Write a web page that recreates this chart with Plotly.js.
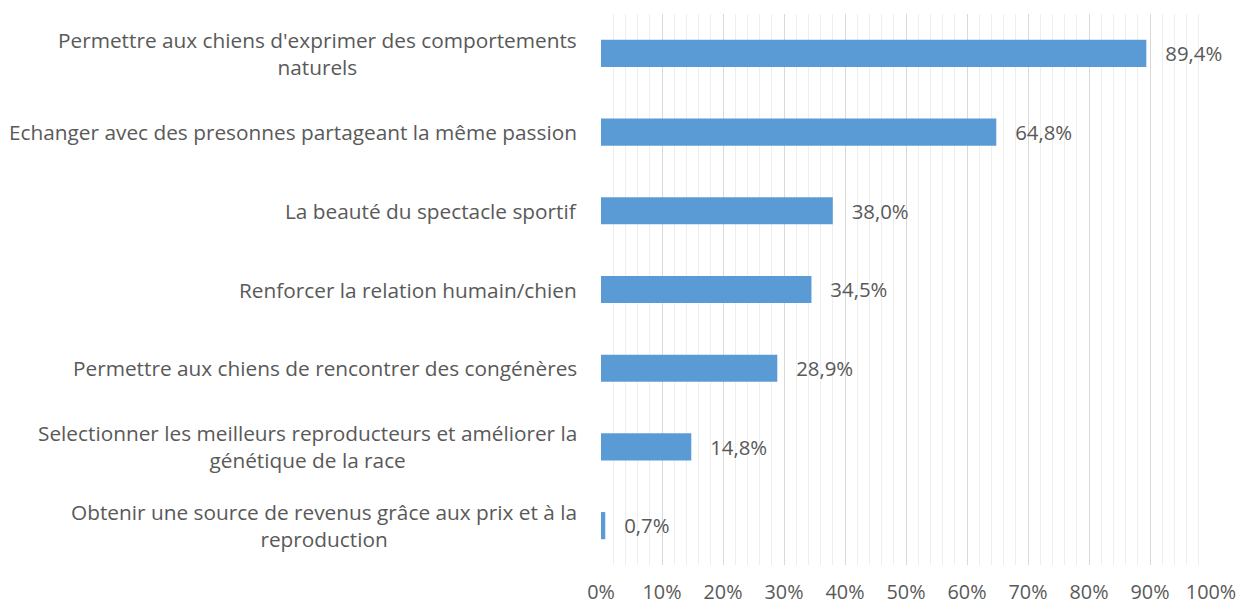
<!DOCTYPE html>
<html>
<head>
<meta charset="utf-8">
<script src="https://cdn.plot.ly/plotly-3.0.1.min.js"></script>
<style>html,body{margin:0;padding:0;background:#fff;}#chart{width:1240px;height:606px;}</style>
</head>
<body>
<div id="chart"></div>
<script>
const categories = [
  "Permettre aux chiens d'exprimer des comportements<br>naturels",
  "Echanger avec des presonnes partageant la même passion",
  "La beauté du spectacle sportif",
  "Renforcer la relation humain/chien",
  "Permettre aux chiens de rencontrer des congénères",
  "Selectionner les meilleurs reproducteurs et améliorer la<br>génétique de la race",
  "Obtenir une source de revenus grâce aux prix et à la<br>reproduction"
];
const values = [89.4, 64.8, 38.0, 34.5, 28.9, 14.8, 0.7];
const tickValues = [0,10,20,30,40,50,60,70,80,90,100];
const tickLabels = ["0%","10%","20%","30%","40%","50%","60%","70%","80%","90%","100%"];

const font = "'Open Sans', sans-serif";
const grey = "#595959";

const trace = {
  type: "bar",
  orientation: "h",
  x: values,
  y: categories,
  marker: {color: "#5b9bd5"},
  texttemplate: "   %{x:.1f}%",
  textposition: "outside",
  cliponaxis: false,
  textfont: {family: font, size: 21, color: grey},
  hoverinfo: "none"
};

const annotations = categories.map(c => ({
  xref: "paper", yref: "y", x: 0, y: c,
  xanchor: "right", yanchor: "middle",
  xshift: -22, align: "center",
  text: c, showarrow: false,
  font: {family: font, size: 20.8, color: grey}
}));

const layout = {
  width: 1240, height: 606,
  margin: {l: 601, r: 29, t: 14, b: 41},
  paper_bgcolor: "#fff", plot_bgcolor: "#fff",
  separators: ", ",
  showlegend: false,
  bargap: 0.655,
  xaxis: {
    range: [0, 100],
    tickvals: tickValues, ticktext: tickLabels,
    showgrid: true, gridcolor: "#d9d9d9", gridwidth: 1,
    minor: {dtick: 2, showgrid: true, gridcolor: "#eeeeee", gridwidth: 1},
    zeroline: false, showline: false,
    tickfont: {family: font, size: 19.8, color: grey},
    ticklabelstandoff: 13,
    ticks: "", fixedrange: true
  },
  yaxis: {
    autorange: "reversed",
    showticklabels: false, showgrid: false, zeroline: false,
    showline: false, ticks: "", fixedrange: true
  },
  annotations: annotations
};

Plotly.newPlot("chart", [trace], layout, {displayModeBar: false, staticPlot: true});
</script>
</body>
</html>
